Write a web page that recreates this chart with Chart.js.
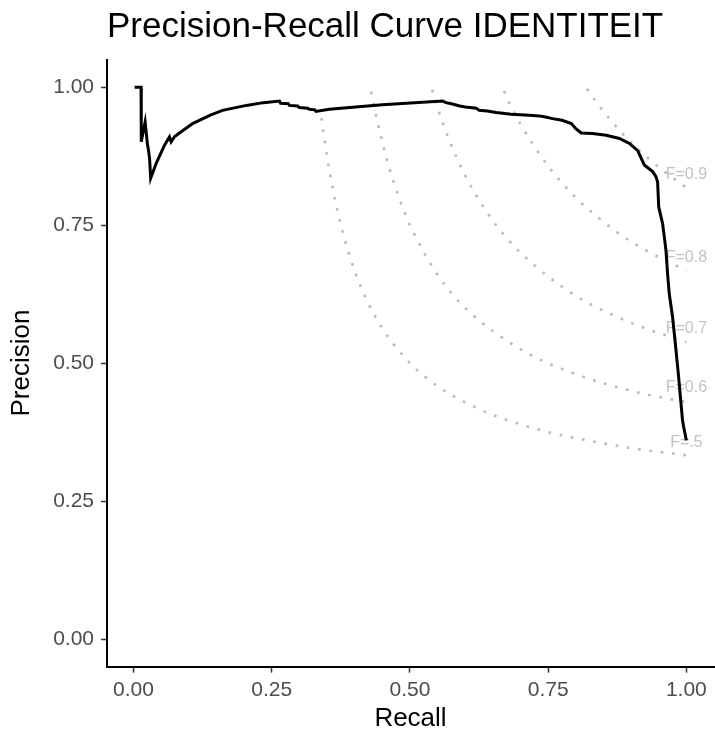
<!DOCTYPE html>
<html>
<head>
<meta charset="utf-8">
<script src="https://cdn.jsdelivr.net/npm/chart.js@4"></script>
<style>
  html, body { margin: 0; padding: 0; background: #fff; }
</style>
</head>
<body>
<canvas id="chart" width="715" height="740"></canvas>
<script>
//Data

const prRecall = [0.002, 0.0136, 0.014, 0.021, 0.025, 0.027, 0.029, 0.031, 0.041, 0.056, 0.065, 0.068, 0.074,
  0.083, 0.107, 0.119, 0.140, 0.161, 0.204, 0.235, 0.264, 0.266, 0.280, 0.282, 0.297, 0.300, 0.315, 0.318,
  0.328, 0.330, 0.354, 0.450, 0.559, 0.565, 0.575, 0.590, 0.600, 0.620, 0.625, 0.640, 0.656, 0.683, 0.716,
  0.734, 0.745, 0.758, 0.775, 0.792, 0.800, 0.810, 0.830, 0.855, 0.879, 0.897, 0.912, 0.918, 0.924, 0.939,
  0.945, 0.948, 0.950, 0.953, 0.957, 0.960, 0.963, 0.966, 0.969, 0.975, 0.980, 0.986, 0.990, 0.993, 0.995, 1.000]
const prPrecision = [1.000, 1.000, 0.901, 0.937, 0.898, 0.886, 0.871, 0.835, 0.862, 0.895, 0.910, 0.901, 0.910,
  0.917, 0.934, 0.940, 0.950, 0.958, 0.967, 0.972, 0.975, 0.971, 0.970, 0.967, 0.966, 0.963, 0.962, 0.960,
  0.959, 0.956, 0.960, 0.968, 0.975, 0.972, 0.970, 0.966, 0.964, 0.962, 0.958, 0.957, 0.954, 0.951, 0.949,
  0.948, 0.946, 0.943, 0.940, 0.934, 0.925, 0.917, 0.916, 0.913, 0.907, 0.898, 0.885, 0.872, 0.859, 0.847,
  0.838, 0.828, 0.783, 0.770, 0.753, 0.730, 0.705, 0.662, 0.626, 0.584, 0.536, 0.475, 0.430, 0.397, 0.385, 0.360]

// iso-F dotted curves
const iso5Recall = [0.34, 0.35, 0.36, 0.37, 0.38, 0.40, 0.42, 0.45, 0.50, 0.55, 0.60, 0.65, 0.70, 0.75, 0.80, 0.90, 1.00]
const iso5Precision = [0.944, 0.875, 0.818, 0.771, 0.731, 0.667, 0.618, 0.563, 0.500, 0.458, 0.429, 0.406, 0.389, 0.375, 0.364, 0.346, 0.333]
const iso6Recall = [0.43, 0.44, 0.46, 0.48, 0.50, 0.55, 0.60, 0.70, 0.80, 0.90, 1.00]
const iso6Precision = [0.992, 0.943, 0.863, 0.800, 0.750, 0.660, 0.600, 0.525, 0.480, 0.450, 0.429]
const iso7Recall = [0.54, 0.55, 0.57, 0.60, 0.65, 0.70, 0.80, 0.90, 1.00]
const iso7Precision = [0.995, 0.963, 0.907, 0.840, 0.758, 0.700, 0.622, 0.573, 0.538]
const iso8Recall = [0.67, 0.68, 0.70, 0.75, 0.80, 0.85, 0.90, 1.00]
const iso8Precision = [0.993, 0.971, 0.933, 0.857, 0.800, 0.756, 0.720, 0.667]
const iso9Recall = [0.82, 0.84, 0.86, 0.90, 0.95, 1.00]
const iso9Precision = [0.997, 0.969, 0.944, 0.900, 0.855, 0.818]

const isoLabels = ["F=.5", "F=0.6", "F=0.7", "F=0.8", "F=0.9"]
const isoLabelX = [1, 1, 1, 1, 1]
const isoLabelY = [0.356, 0.455, 0.563, 0.692, 0.842]

const axisTicks = [0, 0.25, 0.5, 0.75, 1]

const toPoints = (xs, ys) => xs.map((v, i) => ({ x: v, y: ys[i] }))

const FONT = '"Liberation Sans", Arial, Helvetica, sans-serif'

const isoDataset = (xs, ys) => ({
  data: toPoints(xs, ys),
  showLine: true,
  borderColor: '#b9b9b9',
  borderWidth: 2.6,
  borderDash: [2.6, 8.8],
  pointRadius: 0,
  cubicInterpolationMode: 'monotone',
  fill: false
})

//Labels for the iso-F curves, placed through the scales
const isoLabelPlugin = {
  id: 'isoLabels',
  beforeDatasetsDraw(chart) {
    const { ctx, scales: { x, y } } = chart
    ctx.save()
    ctx.font = '16px ' + FONT
    ctx.fillStyle = '#c2c2c2'
    ctx.textAlign = 'center'
    ctx.textBaseline = 'middle'
    isoLabels.forEach((t, i) => {
      ctx.fillText(t, x.getPixelForValue(isoLabelX[i]), y.getPixelForValue(isoLabelY[i]))
    })
    ctx.restore()
  }
}

const data = {
  datasets: [
    {
      data: toPoints(prRecall, prPrecision),
      showLine: true,
      borderColor: '#000000',
      borderWidth: 3,
      pointRadius: 0,
      tension: 0,
      fill: false
    },
    isoDataset(iso5Recall, iso5Precision),
    isoDataset(iso6Recall, iso6Precision),
    isoDataset(iso7Recall, iso7Precision),
    isoDataset(iso8Recall, iso8Precision),
    isoDataset(iso9Recall, iso9Precision)
  ]
}

const tickOpts = {
  callback: v => v.toFixed(2),
  color: '#4d4d4d',
  font: { size: 21, family: FONT },
  autoSkip: false,
  maxRotation: 0
}

const config = {
  type: 'scatter',
  data: data,
  options: {
    responsive: false,
    animation: false,
    devicePixelRatio: 1,
    layout: { padding: { left: 0, right: 1, top: 0, bottom: 0 } },
    scales: {
      x: {
        type: 'linear',
        position: 'bottom',
        min: -0.048,
        max: 1.05,
        afterBuildTicks: s => { s.ticks = axisTicks.map(v => ({ value: v })) },
        afterFit: s => { s.height = 73.4 },
        ticks: { ...tickOpts, padding: 5 },
        grid: { drawOnChartArea: false, drawTicks: true, tickLength: 6, tickWidth: 1.5, tickColor: '#333333' },
        border: { display: true, color: '#000000', width: 2 },
        title: { display: true, text: 'Recall', color: '#000000', font: { size: 26, family: FONT }, padding: { top: 0, bottom: 6 } }
      },
      y: {
        type: 'linear',
        position: 'left',
        min: -0.05,
        max: 1.05,
        afterBuildTicks: s => { s.ticks = axisTicks.map(v => ({ value: v })) },
        afterFit: s => { s.width = 107 },
        ticks: { ...tickOpts, padding: 7 },
        grid: { drawOnChartArea: false, drawTicks: true, tickLength: 6, tickWidth: 1.5, tickColor: '#333333' },
        border: { display: true, color: '#000000', width: 2 },
        title: { display: true, text: 'Precision', color: '#000000', font: { size: 26, family: FONT }, padding: { top: 6, bottom: 0 } }
      }
    },
    plugins: {
      legend: { display: false },
      tooltip: { enabled: false },
      title: {
        display: true,
        text: 'Precision-Recall Curve IDENTITEIT',
        align: 'start',
        fullSize: false,
        color: '#000000',
        font: { size: 35, family: FONT, weight: 'normal' },
        padding: { top: 6, bottom: 11.6 }
      }
    }
  },
  plugins: [isoLabelPlugin]
}

const ctx = document.getElementById('chart').getContext('2d')
const myChart = new Chart(ctx, config)
</script>
</body>
</html>
